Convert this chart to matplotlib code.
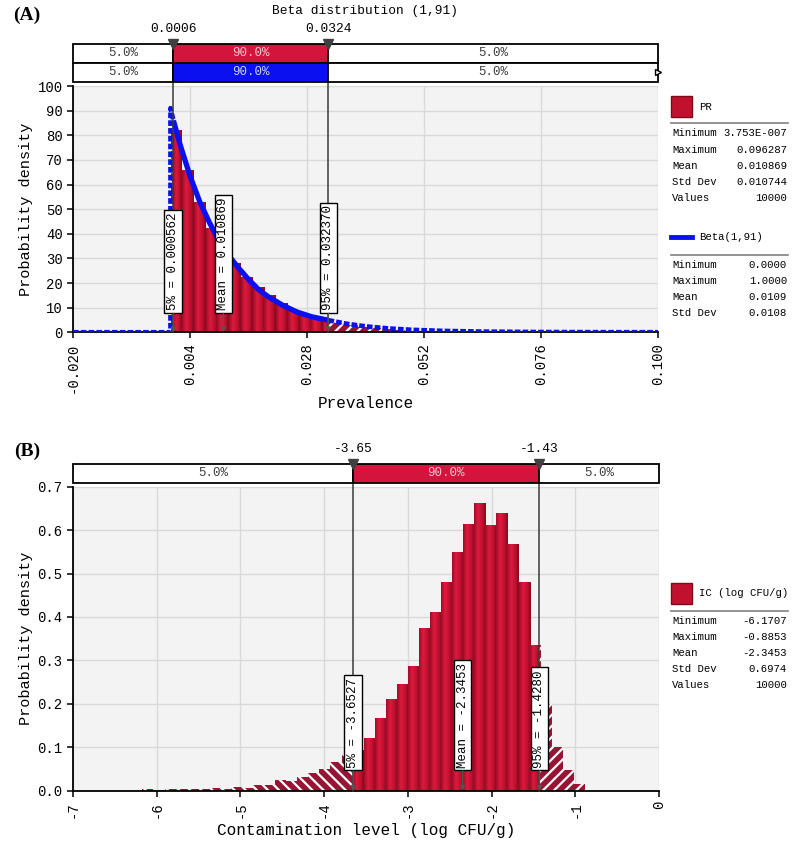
import numpy as np
import matplotlib
matplotlib.use("Agg")
import matplotlib.pyplot as plt
from matplotlib.colors import LinearSegmentedColormap
from matplotlib.lines import Line2D
from matplotlib.patches import Rectangle

plt.rcParams["font.family"] = ["Liberation Mono", "DejaVu Sans Mono"]
plt.rcParams["axes.unicode_minus"] = False
plt.rcParams["hatch.linewidth"] = 1.6

# ---- (A) prevalence PR: 40 equal bins between min and max ----
pr_min, pr_max = 3.753e-7, 0.096287
pr_density = [82.0, 66.0, 52.7, 42.5, 35.0, 28.0, 22.6, 18.5, 15.2, 11.8,
              9.1, 7.0, 5.7, 4.7, 3.9, 3.0, 2.3, 1.8, 1.3, 1.0,
              0.7, 0.5, 0.4, 0.3, 0.25, 0.2, 0.15, 0.1, 0.08, 0.06,
              0.05, 0.04, 0.03, 0.03, 0.02, 0.02, 0.01, 0.01, 0.01, 0.01]
pr_p5, pr_mean, pr_p95 = 0.000562, 0.010869, 0.032370
pr_stat_values = ["3.753E-007", "0.096287", "0.010869", "0.010744", "10000"]

# fitted Beta(1,91) curve
beta_x = [-0.020, 0.0, 0.0, 0.0006, 0.002, 0.004, 0.006, 0.008, 0.010, 0.012,
          0.014, 0.016, 0.018, 0.020, 0.023, 0.026, 0.029, 0.0324, 0.036, 0.040,
          0.045, 0.050, 0.056, 0.064, 0.075, 0.090, 0.100]
beta_y = [0.0, 0.0, 91.0, 86.0, 76.0, 63.5, 53.0, 44.5, 37.0, 31.0,
          26.0, 21.5, 17.5, 14.5, 11.0, 8.2, 6.3, 4.9, 3.5, 2.4,
          1.5, 0.95, 0.55, 0.27, 0.1, 0.03, 0.01]
beta_p5, beta_p95 = 0.0006, 0.0324
beta_stat_values = ["0.0000", "1.0000", "0.0109", "0.0108"]

pr_ticks = [-0.020, 0.004, 0.028, 0.052, 0.076, 0.100]
tail_pct = ["5.0%", "90.0%", "5.0%"]

# ---- (B) contamination level IC ----
ic_min, ic_max = -6.1707, -0.8853
ic_density = [0.005, 0.002, 0.004, 0.004, 0.004, 0.005, 0.007, 0.005, 0.008, 0.007,
              0.013, 0.014, 0.025, 0.022, 0.032, 0.041, 0.049, 0.065, 0.085, 0.093,
              0.122, 0.168, 0.211, 0.246, 0.286, 0.375, 0.412, 0.480, 0.549, 0.614,
              0.662, 0.611, 0.639, 0.568, 0.480, 0.336, 0.199, 0.101, 0.048, 0.015]
ic_p5, ic_mean, ic_p95 = -3.6527, -2.3453, -1.4280
ic_stat_values = ["-6.1707", "-0.8853", "-2.3453", "0.6974", "10000"]

stat_names = ["Minimum", "Maximum", "Mean", "Std Dev", "Values"]

W, H = 799, 846
fig = plt.figure(figsize=(W / 100, H / 100), dpi=100)


def box(l, t, r, b):
    return [l / W, 1 - b / H, (r - l) / W, (b - t) / H]


RED = "#d3143c"
BLUE = "#0a10f0"
LINE = "#3a3a3a"
HATCH_FACE = "#961535"
bar_cmap = LinearSegmentedColormap.from_list("bar", ["#a00c28", "#dc1a3e", "#c41131", "#840a1e"])
grad = np.linspace(0, 1, 64).reshape(1, -1)


def draw_hist(ax, lo, hi, dens, p5, p95):
    edges = np.linspace(lo, hi, len(dens) + 1)
    for a, b, h in zip(edges[:-1], edges[1:], dens):
        pieces = [(a, min(b, p5), "\\\\\\"), (max(a, p5), min(b, p95), None), (max(a, p95), b, "///")]
        for x0, x1, hatch in pieces:
            if x1 <= x0:
                continue
            if hatch:
                ax.bar(x0, h, x1 - x0, align="edge", color=HATCH_FACE, edgecolor="white",
                       lw=0, hatch=hatch, zorder=2)
            else:
                patch = ax.bar(x0, h, x1 - x0, align="edge", color="none", lw=0, zorder=2)[0]
                im = ax.imshow(grad, cmap=bar_cmap, extent=(x0, x1, 0, h), aspect="auto",
                               zorder=2, interpolation="bilinear")
                im.set_clip_path(patch)


def style_axes(ax, xlim, ylim):
    ax.set_xlim(xlim)
    ax.set_ylim(ylim)
    ax.set_facecolor("#f3f3f3")
    ax.grid(True, color="#d9d9d9", lw=1)
    ax.set_axisbelow(True)
    for s in ["top", "right"]:
        ax.spines[s].set_visible(False)
    for s in ["left", "bottom"]:
        ax.spines[s].set_linewidth(1.3)
    ax.tick_params(labelsize=10, length=4, width=1.1)


def draw_delims(bax, xlim, rows):
    # rows top to bottom: (p5, p95, colour, text colour)
    n = len(rows)
    bax.set_xlim(xlim)
    bax.set_ylim(0, n)
    bax.axis("off")
    for i, (p5, p95, col, tcol) in enumerate(rows):
        y = n - i - 0.5
        lefts = [xlim[0], p5, p95]
        widths = [p5 - xlim[0], p95 - p5, xlim[1] - p95]
        cols = ["white", col, "white"]
        bax.barh([y] * 3, widths, left=lefts, height=1, color=cols, edgecolor="black",
                 lw=1.3, clip_on=False)
        for l, w, txt, c in zip(lefts, widths, tail_pct, ["#3c3c3c", tcol, "#3c3c3c"]):
            bax.text(l + w / 2, y, txt, ha="center", va="center", fontsize=9, color=c)
    p5, p95 = rows[0][0], rows[0][1]
    for c in (p5, p95):
        bax.plot([c], [n], marker="v", ms=7.5, color="#404040", clip_on=False, zorder=5)
        lab = f"{c:.4f}" if abs(c) < 1 else f"{c:.2f}"
        bax.annotate(lab, xy=(c, n), xytext=(0, 6), textcoords="offset points",
                     ha="center", va="bottom", fontsize=9.3)


def cut_lines(ax, cuts):
    for c in cuts:
        ax.plot([c, c], [0, 1.03], transform=ax.get_xaxis_transform(), color=LINE,
                lw=1.1, clip_on=False, zorder=4)


def marker_box(ax, x, text, bottom):
    ax.annotate(text, xy=(x, bottom), xytext=(0, 2.2), textcoords="offset points",
                rotation=90, ha="center", va="bottom", fontsize=9, zorder=7,
                bbox=dict(boxstyle="square,pad=0.22", fc="white", ec="black", lw=1))
    ax.annotate("", xy=(x, 0), xytext=(x, bottom),
                arrowprops=dict(arrowstyle="-|>", color="#555555", lw=0.9, mutation_scale=7,
                                shrinkA=0, shrinkB=0), zorder=7)


def legend_block(title, y_title, y_sep, y_rows, values, icon):
    if icon == "bar":
        fig.add_artist(Rectangle((671 / W, 1 - (y_title + 10.5) / H), 21 / W, 21 / H,
                                 transform=fig.transFigure, fc="#c0122f", ec="#7a0a1c", lw=1))
    else:
        fig.add_artist(Line2D([671 / W, 692 / W], [1 - y_title / H] * 2, color=BLUE, lw=3.5))
    fig.text(699 / W, 1 - y_title / H, title, ha="left", va="center", fontsize=7.7)
    fig.add_artist(Line2D([671 / W, 788 / W], [1 - y_sep / H] * 2, color="#808080", lw=1.2))
    for y, name, val in zip(y_rows, stat_names, values):
        fig.text(672 / W, 1 - y / H, name, ha="left", va="center", fontsize=7.7)
        fig.text(787 / W, 1 - y / H, val, ha="right", va="center", fontsize=7.7)


# ================= panel A =================
axA = fig.add_axes(box(73, 86, 658, 332.3))
barA = fig.add_axes(box(73, 43.7, 658, 81.7))
xlimA = (pr_ticks[0], pr_ticks[-1])
draw_hist(axA, pr_min, pr_max, pr_density, pr_p5, pr_p95)

bx = np.array(beta_x)
by = np.array(beta_y)
left = bx <= beta_p5
mid = (bx >= beta_p5) & (bx <= beta_p95)
right = bx >= beta_p95
axA.plot(bx[mid], by[mid], color=BLUE, lw=3.8, zorder=3, solid_capstyle="butt")
for m in (left, right):
    axA.plot(bx[m], by[m], color=BLUE, lw=3.4, zorder=3, dashes=(1.2, 0.45))

style_axes(axA, xlimA, (0, 100))
axA.set_xticks(pr_ticks)
axA.set_xticklabels([f"{t:.3f}" for t in pr_ticks], rotation=90)
axA.set_yticks(range(0, 101, 10))
axA.set_xlabel("Prevalence", fontsize=11.5)
axA.set_ylabel("Probability density", fontsize=11)
axA.xaxis.set_label_coords(0.5, -0.26)
axA.yaxis.set_label_coords(-0.069, 0.5)
cut_lines(axA, [pr_p5, pr_p95])
marker_box(axA, pr_p5, f"5% = {pr_p5:.6f}", 7.7)
marker_box(axA, pr_mean, f"Mean = {pr_mean:.6f}", 7.7)
marker_box(axA, pr_p95, f"95% = {pr_p95:.6f}", 7.7)

draw_delims(barA, xlimA, [(pr_p5, pr_p95, RED, "#f4c8d0"), (beta_p5, beta_p95, BLUE, "#d0d4ff")])
barA.plot([xlimA[1]], [0.5], marker=">", ms=5, mfc="white", mec="black", clip_on=False, zorder=6)

fig.text(365 / W, 1 - 11 / H, "Beta distribution (1,91)", ha="center", va="center", fontsize=9.3)
fig.text(27 / W, 1 - 15 / H, "(A)", ha="center", va="center", fontsize=14,
         family="Liberation Serif", weight="bold")

legend_block("PR", 106.5, 123.5, [133.3, 149.7, 165.7, 181.7, 198], pr_stat_values, "bar")
legend_block("Beta(1,91)", 237.3, 255, [265, 281, 297, 313], beta_stat_values, "line")

# ================= panel B =================
axB = fig.add_axes(box(73, 486.7, 659, 790.7))
barB = fig.add_axes(box(73, 463.7, 659, 482.7))
xlimB = (-7, 0)
draw_hist(axB, ic_min, ic_max, ic_density, ic_p5, ic_p95)
style_axes(axB, xlimB, (0, 0.7))
axB.set_xticks(range(-7, 1))
axB.set_xticklabels([str(t) for t in range(-7, 1)], rotation=90)
axB.set_yticks(np.arange(0, 0.71, 0.1))
axB.set_yticklabels([f"{t:.1f}" for t in np.arange(0, 0.71, 0.1)])
axB.set_xlabel("Contamination level (log CFU/g)", fontsize=11.5)
axB.set_ylabel("Probability density", fontsize=11)
axB.xaxis.set_label_coords(0.5, -0.105)
axB.yaxis.set_label_coords(-0.068, 0.5)
cut_lines(axB, [ic_p5, ic_p95])
marker_box(axB, ic_p5, f"5% = {ic_p5:.4f}", 0.046)
marker_box(axB, ic_mean, f"Mean = {ic_mean:.4f}", 0.046)
marker_box(axB, ic_p95, f"95% = {ic_p95:.4f}", 0.046)

draw_delims(barB, xlimB, [(ic_p5, ic_p95, RED, "#f4c8d0")])
fig.text(27 / W, 1 - 451 / H, "(B)", ha="center", va="center", fontsize=14,
         family="Liberation Serif", weight="bold")

legend_block("IC (log CFU/g)", 593.5, 610.7, [620.7, 636.7, 652.7, 668.7, 685], ic_stat_values, "bar")

fig.savefig("out.png", dpi=100)
